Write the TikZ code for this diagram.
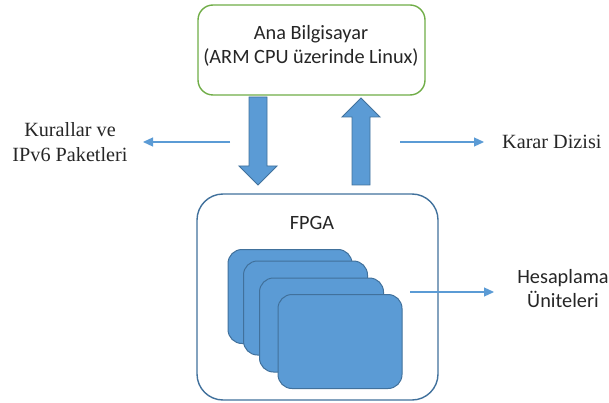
\documentclass[tikz,border=0pt]{standalone}
\usepackage{fontspec}
\setmainfont{Liberation Serif}
\newfontfamily\calibri{Carlito}
\usetikzlibrary{arrows.meta}
\definecolor{boxblue}{HTML}{5B9BD5}
\definecolor{edgeblue}{HTML}{41719C}
\definecolor{hostgreen}{HTML}{70AD47}
\definecolor{txt}{HTML}{262626}
\begin{document}
\begin{tikzpicture}[x=1pt,y=-1pt,
  hostbox/.style={draw=hostgreen, line width=1.4pt, rounded corners=15pt, fill=white,
     minimum width=227pt, minimum height=90pt, inner sep=0pt},
  fpgabox/.style={draw=edgeblue, line width=1.4pt, rounded corners=26pt, fill=white,
     minimum width=241pt, minimum height=206pt, inner sep=0pt},
  card/.style={draw=edgeblue, line width=1pt, rounded corners=14pt, fill=boxblue,
     minimum width=124pt, minimum height=94pt, inner sep=0pt},
  blockarrow/.style={draw=edgeblue, line width=0.9pt, fill=boxblue},
  thinarrow/.style={draw=boxblue, line width=1.2pt, -{Triangle[length=10pt,width=9pt]}},
  sanslabel/.style={font=\calibri\fontsize{20.3}{24}\selectfont, text=txt, align=center, inner sep=0pt},
  seriflabel/.style={font=\fontsize{20.2}{25}\selectfont, text=txt, align=center, inner sep=0pt}
]
\useasboundingbox (0,0) rectangle (609,403);
% host box
\node[hostbox] (host) at (311.5,50) {};
\node[sanslabel] (hosttext) at (311,46) {Ana Bilgisayar\\(ARM CPU üzerinde Linux)};
% FPGA box
\node[fpgabox] (fpga) at (317.5,297) {};
\node[sanslabel] (fpgatext) at (312,223) {FPGA};
% cards
\node[card] (c1) at (290,296.5) {};
\node[card] (c2) at (305.5,308) {};
\node[card] (c3) at (321.5,325) {};
\node[card] (c4) at (340,341.5) {};
% block arrows
\draw[blockarrow] (249,97) -- (267,97) -- (267,166) -- (277,166) -- (258,185) -- (239,166) -- (249,166) -- cycle;
\draw[blockarrow] (352,185) -- (370,185) -- (370,117) -- (380,117) -- (361,98) -- (342,117) -- (352,117) -- cycle;
% labels
\node[seriflabel] (kural) at (70,142) {Kurallar ve\\IPv6 Paketleri};
\node[seriflabel, anchor=west] (karar) at (502,142) {Karar Dizisi};
\node[sanslabel] (hesap) at (563,289) {Hesaplama\\Üniteleri};
% thin arrows
\coordinate (ls) at (230,142);
\coordinate (le) at (143,142);
\coordinate (rs) at (400,142);
\coordinate (re) at (484,142);
\coordinate (hs) at (410,292);
\coordinate (he) at (494,292);
\draw[thinarrow] (ls) -- (le);
\draw[thinarrow] (rs) -- (re);
\draw[thinarrow] (hs) -- (he);
\end{tikzpicture}
\end{document}
